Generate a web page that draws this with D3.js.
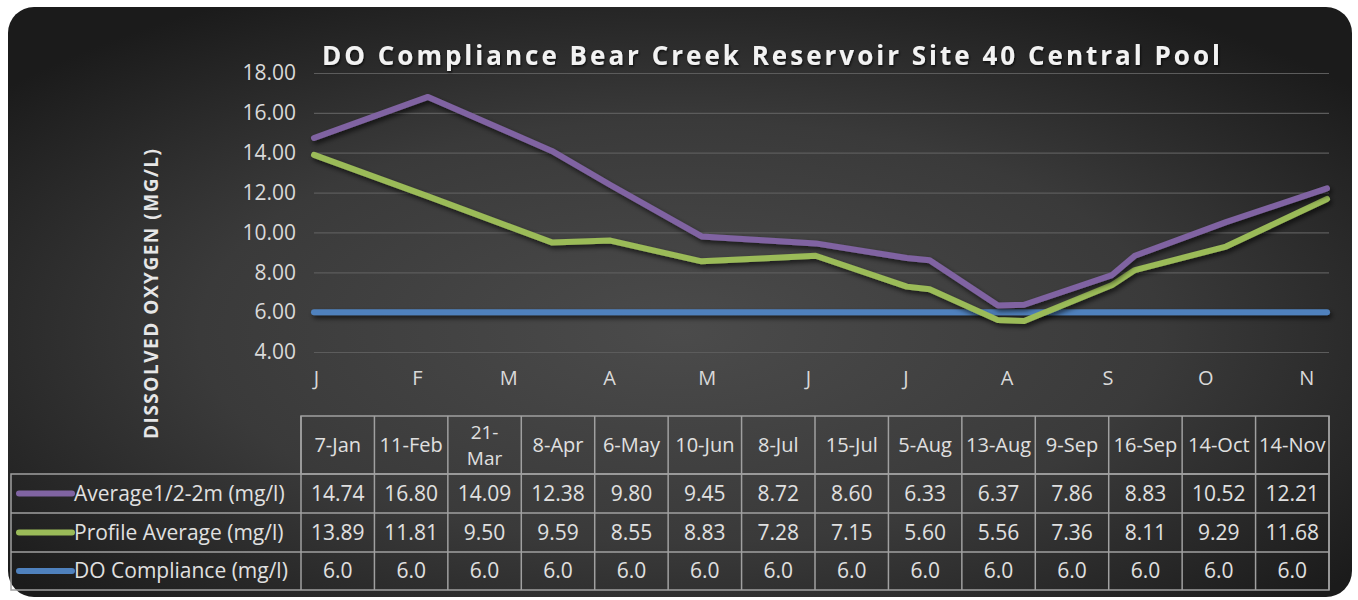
<!DOCTYPE html>
<html>
<head>
<meta charset="utf-8">
<script src="https://cdn.jsdelivr.net/npm/d3@7"></script>
<style>
  body { margin: 0; background: #fff; }
  svg { display: block; font-family: "Open Sans", sans-serif; }
</style>
</head>
<body>
<div id="chart"></div>
<script>
// sample dates (same year, day/month only matter)
var sampleDates = ["2015-01-07","2015-02-11","2015-03-21","2015-04-08","2015-05-06","2015-06-10","2015-07-08",
                   "2015-07-15","2015-08-05","2015-08-13","2015-09-09","2015-09-16","2015-10-14","2015-11-14"];
var headerLabels = ["7-Jan","11-Feb","21-\nMar","8-Apr","6-May","10-Jun","8-Jul",
                    "15-Jul","5-Aug","13-Aug","9-Sep","16-Sep","14-Oct","14-Nov"];
var avgTop = [14.74,16.80,14.09,12.38,9.80,9.45,8.72,8.60,6.33,6.37,7.86,8.83,10.52,12.21];
var profileAvg = [13.89,11.81,9.50,9.59,8.55,8.83,7.28,7.15,5.60,5.56,7.36,8.11,9.29,11.68];
var compliance = [6.0,6.0,6.0,6.0,6.0,6.0,6.0,6.0,6.0,6.0,6.0,6.0,6.0,6.0];
var seriesNames = ["Average1/2-2m (mg/l)","Profile Average (mg/l)","DO Compliance (mg/l)"];
var seriesColors = ["#8064a2","#9bbb59","#4f81bd"];
var yTicks = [4,6,8,10,12,14,16,18];

var W = 1358, H = 600;
var parse = d3.timeParse("%Y-%m-%d");
var dates = sampleDates.map(parse);

var svg = d3.select("#chart").append("svg").attr("width", W).attr("height", H);
var defs = svg.append("defs");

var grad = defs.append("radialGradient").attr("id","bg")
    .attr("cx","50%").attr("cy","55%").attr("r","65%");
grad.append("stop").attr("offset","0%").attr("stop-color","#4b4b4b");
grad.append("stop").attr("offset","55%").attr("stop-color","#3a3a3a");
grad.append("stop").attr("offset","100%").attr("stop-color","#1b1b1b");

// user space region so the flat compliance line keeps its shadow
var shadow = defs.append("filter").attr("id","shadow").attr("filterUnits","userSpaceOnUse")
    .attr("x",0).attr("y",0).attr("width",W).attr("height",H);
shadow.append("feDropShadow").attr("dx",2).attr("dy",3).attr("stdDeviation",2.5)
    .attr("flood-color","#000").attr("flood-opacity",0.65);

var tshadow = defs.append("filter").attr("id","tshadow");
tshadow.append("feDropShadow").attr("dx",1).attr("dy",1.5).attr("stdDeviation",1)
    .attr("flood-color","#000").attr("flood-opacity",0.7);

svg.append("rect").attr("x",8).attr("y",7).attr("width",1344).attr("height",590)
    .attr("rx",26).attr("fill","url(#bg)");

var plotLeft = 314, plotRight = 1327;
var x = d3.scaleTime().domain(d3.extent(dates)).range([plotLeft, plotRight]);
var y = d3.scaleLinear().domain([4,18]).range([352,73]);

// gridlines
var grid = svg.append("g").attr("transform",`translate(${plotLeft},0)`)
    .call(d3.axisLeft(y).tickValues(yTicks).tickSize(-(plotRight-plotLeft+2)).tickFormat(""));
grid.select(".domain").remove();
grid.selectAll("line").attr("stroke","#5c5c5c").attr("stroke-width",1.2);

// y axis labels
var yAxis = svg.append("g").attr("transform","translate(296,0)")
    .call(d3.axisLeft(y).tickValues(yTicks).tickSize(0).tickPadding(0).tickFormat(d3.format(".2f")));
yAxis.select(".domain").remove();
yAxis.selectAll("text").attr("fill","#d9d9d9").attr("font-size","21px")
    .attr("font-family","'Open Sans', sans-serif");

// month labels on the 7th of each month
var monthTicks = d3.range(11).map(i => new Date(2015, i, 7));
var xAxis = svg.append("g").attr("transform","translate(2,371)")
    .call(d3.axisBottom(x).tickValues(monthTicks).tickSize(0).tickPadding(0)
        .tickFormat(d => d3.timeFormat("%b")(d).charAt(0)));
xAxis.select(".domain").remove();
xAxis.selectAll("text").attr("fill","#d9d9d9").attr("font-size","20px")
    .attr("font-family","'Open Sans', sans-serif");

// series lines
var line = d3.line().x((d,i) => x(dates[i])).y(d => y(d));
var seriesData = [avgTop, profileAvg, compliance];
[2,1,0].forEach(function(k){
    svg.append("path").datum(seriesData[k])
       .attr("d", line)
       .attr("fill","none")
       .attr("stroke", seriesColors[k])
       .attr("stroke-width", 6)
       .attr("stroke-linejoin","round")
       .attr("stroke-linecap","round")
       .attr("filter","url(#shadow)");
});

// title
svg.append("text").attr("x",322).attr("y",65)
   .attr("font-size","26px").attr("font-weight","bold").attr("fill","#f2f2f2")
   .attr("textLength",898).attr("lengthAdjust","spacing")
   .attr("filter","url(#tshadow)")
   .text("DO Compliance Bear Creek Reservoir Site 40 Central Pool");

// y axis title
svg.append("text").attr("transform","translate(158,294) rotate(-90)")
   .attr("text-anchor","middle").attr("font-size","19px").attr("font-weight","bold")
   .attr("fill","#e6e6e6").attr("textLength",290).attr("lengthAdjust","spacing")
   .text("DISSOLVED OXYGEN (MG/L)");

// data table
var tableLeft = 301, tableRight = 1329, legendLeft = 11;
var col = d3.scaleBand().domain(d3.range(headerLabels.length)).range([tableLeft, tableRight]);
var rowTops = [416, 474, 513, 552, 590];
var borderColor = "#a0a0a0";
var table = svg.append("g");

// header row
table.append("rect").attr("x",tableLeft).attr("y",rowTops[0])
     .attr("width",tableRight-tableLeft).attr("height",rowTops[1]-rowTops[0])
     .attr("fill","none").attr("stroke",borderColor).attr("stroke-width",1.5);
// body
table.append("rect").attr("x",legendLeft).attr("y",rowTops[1])
     .attr("width",tableRight-legendLeft).attr("height",rowTops[4]-rowTops[1])
     .attr("fill","none").attr("stroke",borderColor).attr("stroke-width",1.5);
[rowTops[2], rowTops[3]].forEach(function(ry){
    table.append("line").attr("x1",legendLeft).attr("x2",tableRight).attr("y1",ry).attr("y2",ry)
         .attr("stroke",borderColor).attr("stroke-width",1.5);
});
d3.range(headerLabels.length + 1).forEach(function(i){
    var cx = i < headerLabels.length ? col(i) : tableRight;
    table.append("line").attr("x1",cx).attr("x2",cx).attr("y1",rowTops[0]).attr("y2",rowTops[4])
         .attr("stroke",borderColor).attr("stroke-width",1.5);
});

var cellFont = "21px";
headerLabels.forEach(function(lab, i){
    var parts = lab.split("\n");
    var cy = (rowTops[0] + rowTops[1]) / 2;
    parts.forEach(function(p, j){
        table.append("text").attr("x", col(i) + col.bandwidth()/2)
         .attr("y", cy + 7 + (j - (parts.length-1)/2) * 26)
         .attr("text-anchor","middle").attr("fill","#e0e0e0")
         .attr("font-size", parts.length > 1 ? "19px" : "20px").text(p);
    });
});

var formats = [d3.format(".2f"), d3.format(".2f"), d3.format(".1f")];
seriesData.forEach(function(vals, k){
    var cy = (rowTops[k+1] + rowTops[k+2]) / 2 + 7;
    table.append("line").attr("x1",19).attr("x2",72)
         .attr("y1",cy-7).attr("y2",cy-7)
         .attr("stroke",seriesColors[k]).attr("stroke-width",6).attr("stroke-linecap","round");
    table.append("text").attr("x",74).attr("y",cy).attr("fill","#e0e0e0")
         .attr("font-size",cellFont).text(seriesNames[k]);
    vals.forEach(function(v, i){
        table.append("text").attr("x", col(i) + col.bandwidth()/2).attr("y", cy)
             .attr("text-anchor","middle").attr("fill","#e0e0e0").attr("font-size",cellFont)
             .text(formats[k](v));
    });
});
</script>
</body>
</html>
